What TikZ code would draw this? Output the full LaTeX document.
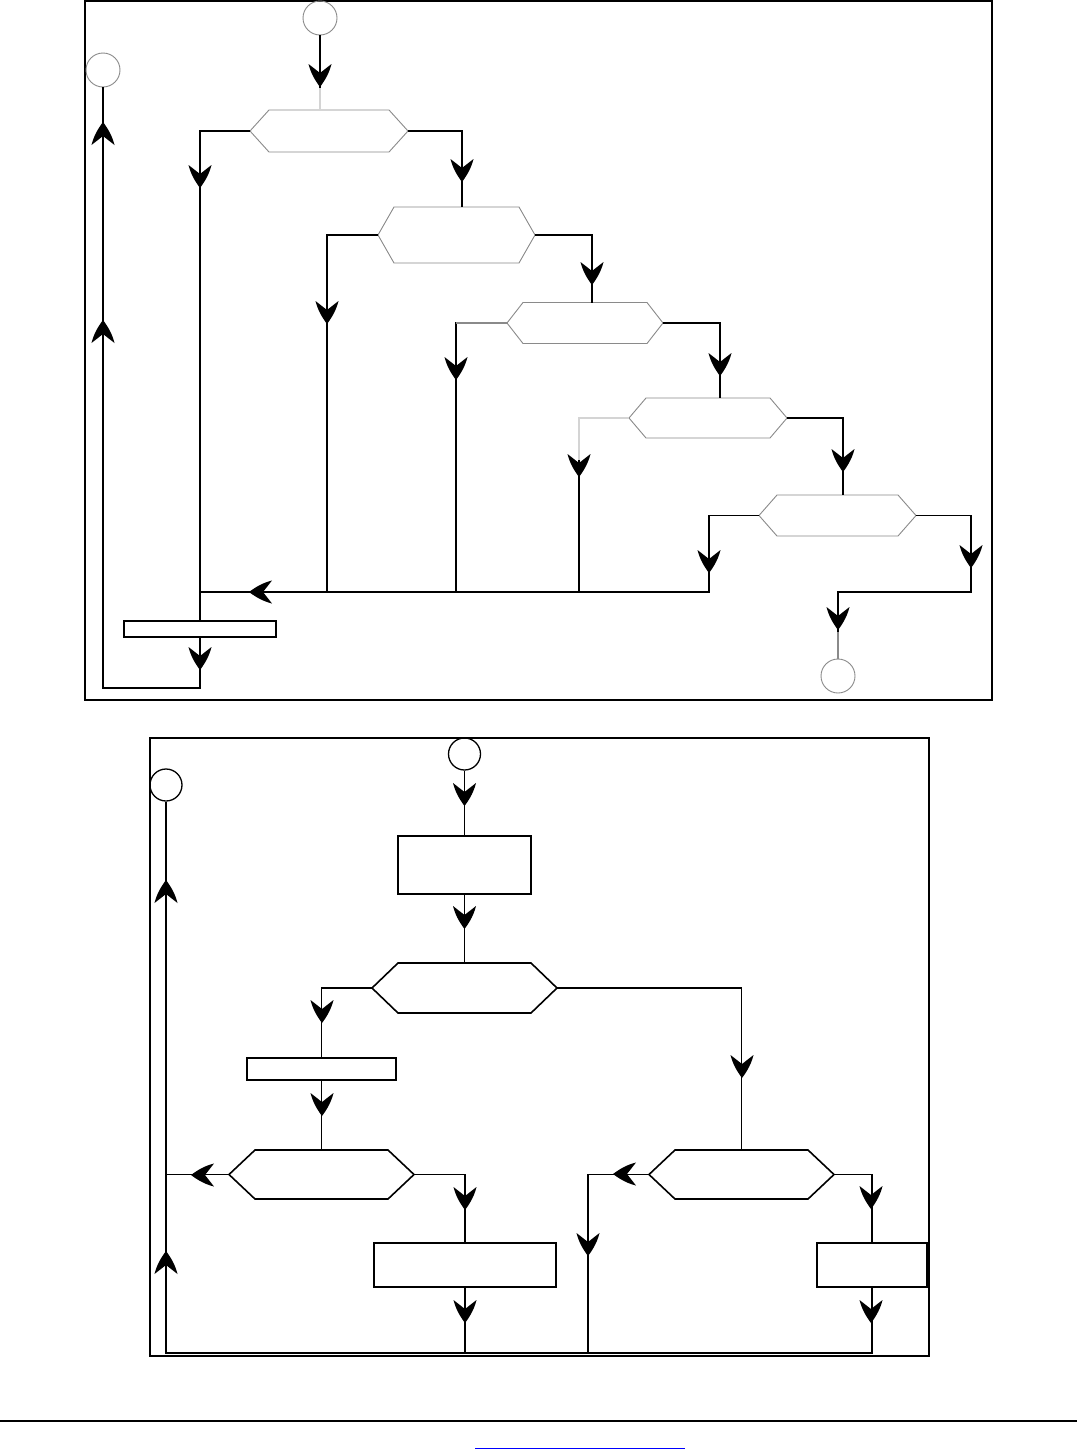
\documentclass[tikz,border=0pt]{standalone}
\usetikzlibrary{calc}
\definecolor{hexgray}{HTML}{8A8A8A}
\definecolor{faint}{HTML}{D4D4D4}
\tikzset{
  ah/.pic={\fill[black] (0,0) .. controls (-8,6) and (-15,9.5) .. (-23,11.5)
      -- (-14,0) -- (-23,-11.5) .. controls (-15,-9.5) and (-8,-6) .. (0,0) -- cycle;},
  ln/.style={draw=black, line width=1.3pt},
  hexg/.style={draw=hexgray, line width=0.9pt},
  hexb/.style={draw=black, line width=1.6pt, line join=miter},
  circg/.style={circle, draw=hexgray, line width=0.9pt, minimum size=34pt, inner sep=0pt},
  circb/.style={circle, draw=black, line width=1.3pt, minimum size=32pt, inner sep=0pt},
  boxb/.style={rectangle, draw=black, line width=1.6pt, inner sep=0pt},
  framebox/.style={draw=black, line width=1.3pt}
}
\newcommand\hexnode[7]{%
  \node[minimum width=2*#5, minimum height=2*#6, inner sep=0pt, outer sep=0pt] (#2) at (#3,#4) {};
  \draw[#1] (#3-#5,#4) -- (#3-#5+#7,#4-#6) -- (#3+#5-#7,#4-#6) -- (#3+#5,#4)
    -- (#3+#5-#7,#4+#6) -- (#3-#5+#7,#4+#6) -- cycle;}
\newcommand\ad[2]{\pic[rotate=-90] at (#1,#2) {ah};}
\newcommand\au[2]{\pic[rotate=90] at (#1,#2) {ah};}
\newcommand\al[2]{\pic[rotate=180] at (#1,#2) {ah};}
\begin{document}
\begin{tikzpicture}[x=1pt, y=-1pt]
\useasboundingbox (0,0) rectangle (1077,1451);
\fill[white] (0,0) rectangle (1077,1451);

% ================= top diagram =================
\draw[framebox] (85,1) rectangle (992,700);
\node[circg] (s1) at (320,18) {};
\node[circg] (s2) at (103,70) {};
\node[circg] (e1) at (838,676) {};
\hexnode{hexg}{h1}{329}{131}{79}{21}{19}
\hexnode{hexg}{h2}{456.5}{235}{78.5}{28}{16}
\hexnode{hexg}{h3}{585}{323}{78}{20.5}{16}
\hexnode{hexg}{h4}{708}{418}{79}{20}{17}
\hexnode{hexg}{h5}{837.5}{515.5}{78.5}{20.5}{18}
\node[rectangle, draw=black, line width=1.3pt, minimum width=152pt, minimum height=16pt, inner sep=0pt] (b1) at (200,629) {};

\coordinate (h2in) at (462,207);
\coordinate (h3in) at (592,302.5);
\coordinate (h4in) at (720,398);
\coordinate (h5in) at (843,495);
\coordinate (m2) at (327,592);
\coordinate (m3) at (456,592);
\coordinate (m4) at (579,592);
\coordinate (m5) at (709,592);
\coordinate (r5) at (971,592);
\coordinate (lp) at (103,688);

\draw[ln] (s1) -- (s1 |- h1.north);
\draw[line width=1.3pt, faint] (320,88) -- (s1 |- h1.north);
\draw[ln] (h1.west) -| (b1.north);
\draw[ln] (h1.east) -| (h2in);
\draw[ln] (h2.west) -| (m2);
\draw[ln] (h2.east) -| (h3in);
\draw[ln] (h3.west) -| (m3);
\draw[line width=1.3pt, hexgray] (h3.west) -- (h3.west -| m3);
\draw[ln] (h3.east) -| (h4in);
\draw[ln] (h4.west) -| (m4);
\draw[line width=1.3pt, faint] (h4.west) -| (579,460);
\draw[ln] (h4.east) -| (h5in);
\draw[ln] (h5.west) -| (m5) -- (b1.north |- m5);
\draw[ln] (h5.east) -| (r5) -| (e1);
\draw[line width=1.3pt, hexgray] (838,632) -- (e1);
\draw[ln] (b1.south) -- (b1.south |- lp) -| (s2);

\ad{320}{87} \ad{200}{188} \ad{462}{182} \ad{327}{324} \ad{592}{285}
\ad{456}{380} \ad{720}{376} \ad{579}{477} \ad{843}{472} \ad{709}{573}
\ad{971}{568} \ad{838}{630} \ad{200}{670}
\al{249}{592}
\au{103}{122} \au{103}{320}

% ================= bottom diagram =================
\draw[framebox] (150,738) rectangle (929,1356);
\node[circb] (s3) at (464.5,754) {};
\node[circb] (s4) at (166,785) {};
\node[boxb, minimum width=133pt, minimum height=58pt] (r1) at (464.5,865) {};
\hexnode{hexb}{ha}{464.5}{988}{92.5}{25}{26}
\node[boxb, minimum width=149pt, minimum height=22pt] (bb) at (321.5,1069) {};
\hexnode{hexb}{hb}{321.5}{1174.5}{92.5}{24.5}{26}
\hexnode{hexb}{hc}{741.5}{1174.5}{92.5}{24.5}{26}
\node[boxb, minimum width=182pt, minimum height=44pt] (r2) at (465,1265) {};
\node[boxb, minimum width=110pt, minimum height=44pt] (r3) at (872,1265) {};

\coordinate (bl) at (166,1353);
\coordinate (cl) at (588,1353);

\draw[ln] (s3) -- (r1);
\draw[ln] (r1) -- (ha);
\draw[ln] (ha.west) -| (bb.north);
\draw[ln] (ha.east) -| (hc.north);
\draw[ln] (bb) -- (hb);
\draw[ln] (hb.west) -- (hb.west -| s4);
\draw[ln] (hb.east) -| (r2.north);
\draw[ln] (r2.south) -- (r2.south |- bl);
\draw[ln] (hc.west) -| (cl);
\draw[ln] (hc.east) -| (r3.north);
\draw[ln] (r3.south) -- (r3.south |- bl) -- (bl) -- (s4);

\ad{464.5}{806} \ad{464.5}{929} \ad{322}{1023} \ad{742}{1078} \ad{322}{1116}
\ad{465}{1210} \ad{465}{1323} \ad{588}{1256} \ad{871}{1209} \ad{871}{1323}
\al{191}{1175} \al{613}{1174}
\au{166}{880} \au{166}{1251}

% ================= footer =================
\draw[line width=2.2pt] (0,1421) -- (1077,1421);
\draw[blue, line width=1pt] (475,1448) -- (685,1448);
\end{tikzpicture}
\end{document}
